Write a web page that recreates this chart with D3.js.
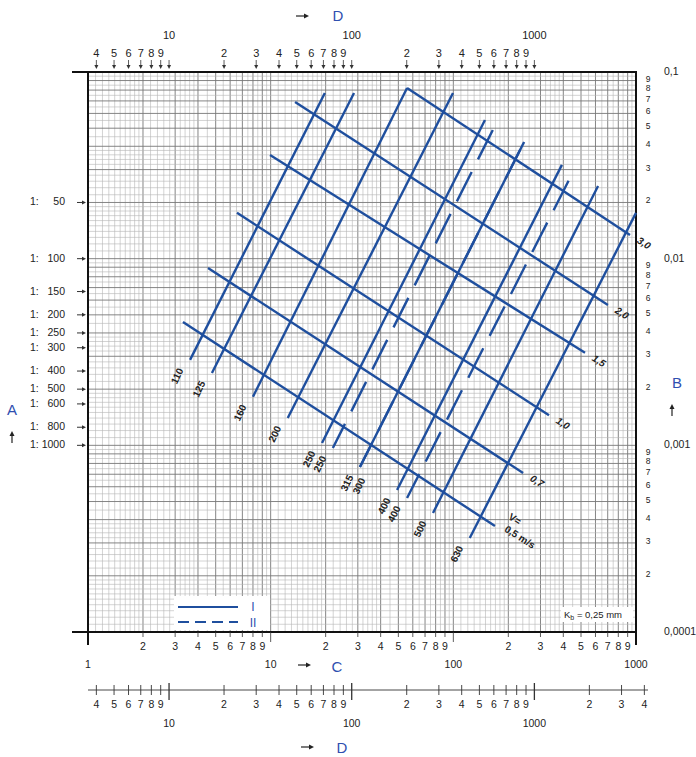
<!DOCTYPE html>
<html>
<head>
<meta charset="utf-8">
<script src="https://cdn.jsdelivr.net/npm/d3@7/dist/d3.min.js"></script>
<style>
body{margin:0;background:#fff}
svg text{font-family:"Liberation Sans",Arial,sans-serif;fill:#222}
</style>
</head>
<body>
<svg id="chart" width="696" height="757"></svg>
<script>
// pipe lines (constant diameter): bottom end and top end
// (300 II lies on top of 315 I)
var pipeLabels = ["110", "125", "160", "200", "250", "250", "315", "300", "400", "400", "500", "630"];
var pipeSeries = ["I", "I", "I", "I", "I", "II", "I", "II", "I", "II", "I", "I"];
var pipeQ0 = [3.62, 4.77, 8.0, 12.4, 19.1, 21.9, 30.8, 30.8, 49.2, 55.8, 77.4, 123];
var pipeI0 = [0.00287, 0.00244, 0.00182, 0.00140, 0.00103, 0.000968, 0.000765, 0.000765, 0.000576, 0.000522, 0.000434, 0.000319];
var pipeQ1 = [19.8, 28.6, 55.8, 99.6, 149, 173, 244, 244, 393, 452, 620, 1000];
var pipeI1 = [0.0772, 0.0772, 0.0821, 0.0772, 0.0553, 0.054, 0.0422, 0.0422, 0.0318, 0.0291, 0.0245, 0.0176];

// velocity lines (m/s): left end and right end
var velLabels = ["0,5 m/s", "0,7", "1,0", "1,5", "2,0", "3,0"];
var velQ0 = [3.31, 4.54, 6.54, 9.92, 13.6, 55.8];
var velI0 = [0.00458, 0.00891, 0.0176, 0.0359, 0.0691, 0.0821];
var velQ1 = [169, 241, 334, 526, 702, 927];
var velI1 = [0.00037, 0.000711, 0.00145, 0.00313, 0.00565, 0.0134];

// axis ticks
var cMajor = [1, 10, 100, 1000];
var cMinor = [2, 3, 4, 5, 6, 7, 8, 9];
var dTopTicks = [4, 5, 6, 7, 8, 9, 10, 20, 30, 40, 50, 60, 70, 80, 90, 100, 200, 300, 400, 500, 600, 700, 800, 900, 1000];
var dBottomTicks = dTopTicks.concat([2000, 3000, 4000]);
var dMajor = [10, 100, 1000];
var bMajor = [0.1, 0.01, 0.001, 0.0001];
var bMajorLabels = ["0,1", "0,01", "0,001", "0,0001"];
var aRatios = [50, 100, 150, 200, 250, 300, 400, 500, 600, 800, 1000];
var gridSteps = [1, 1.1, 1.2, 1.3, 1.4, 1.5, 1.6, 1.7, 1.8, 1.9, 2, 2.2, 2.4, 2.6, 2.8, 3, 3.2, 3.4, 3.6, 3.8, 4, 4.5, 5, 5.5, 6, 6.5, 7, 7.5, 8, 8.5, 9, 9.5];

var blue = "#1f4f9e",
  labelBlue = "#2f4fb0";

var svg = d3.select("#chart");

var x = d3.scaleLog().domain([1, 1000]).range([88, 636]),
  y = d3.scaleLog().domain([0.0001, 0.1]).range([632, 72]),
  // D = 3.6 * C  (l/s -> m3/h)
  xD = d3.scaleLog().domain([3.6, 3600]).range([88, 636]);

var decades = function(lo, hi){
  var out = [];
  for(var e = lo; e < hi; e++){
    gridSteps.forEach(function(s){ out.push(s * Math.pow(10, e)); });
  }
  out.push(Math.pow(10, hi));
  return out;
};
var mant = function(v){ return v / Math.pow(10, Math.floor(Math.log10(v) + 1e-9)); };
var isInt = function(v){
  var m = mant(v);
  return Math.abs(m - Math.round(m)) < 1e-6;
};

// grid
var grid = svg.append("g").attr("class", "grid");
grid.selectAll("line.gx")
  .data(decades(0, 3))
  .enter().append("line")
  .attr("x1", function(d){ return x(d); })
  .attr("x2", function(d){ return x(d); })
  .attr("y1", 72).attr("y2", 632)
  .attr("stroke", function(d){ return isInt(d) ? "#777" : "#b5b5b5"; })
  .attr("stroke-width", function(d){ return isInt(d) ? 0.9 : 0.6; });
grid.selectAll("line.gy")
  .data(decades(-4, -1))
  .enter().append("line")
  .attr("y1", function(d){ return y(d); })
  .attr("y2", function(d){ return y(d); })
  .attr("x1", 88).attr("x2", 636)
  .attr("stroke", function(d){ return isInt(d) ? "#777" : "#b5b5b5"; })
  .attr("stroke-width", function(d){ return isInt(d) ? 0.9 : 0.6; });

// frame
var frame = svg.append("g").attr("stroke", "#111").attr("stroke-width", 2);
frame.append("line").attr("x1", 72).attr("x2", 637).attr("y1", 72).attr("y2", 72);
frame.append("line").attr("x1", 72).attr("x2", 637).attr("y1", 632).attr("y2", 632);
frame.append("line").attr("x1", 88).attr("x2", 88).attr("y1", 72).attr("y2", 645);
frame.append("line").attr("x1", 636).attr("x2", 636).attr("y1", 72).attr("y2", 645);

// bottom C axis
var cAxis = svg.append("g");
cAxis.selectAll("line.ct")
  .data(decades(0, 3).filter(function(d){ return isInt(d) && d > 1 && d < 1000; }))
  .enter().append("line")
  .attr("x1", function(d){ return x(d); }).attr("x2", function(d){ return x(d); })
  .attr("y1", 632).attr("y2", function(d){ return cMajor.indexOf(d) >= 0 ? 642 : 637; })
  .attr("stroke", "#333").attr("stroke-width", 0.8);
cAxis.selectAll("text.cmin")
  .data(d3.merge([1, 10, 100].map(function(p){ return cMinor.map(function(m){ return m * p; }); })))
  .enter().append("text")
  .attr("x", function(d){ return x(d); }).attr("y", 650)
  .attr("text-anchor", "middle").attr("font-size", 10.5)
  .text(function(d){ return String(d).charAt(0); });
cAxis.selectAll("text.cmaj")
  .data(cMajor)
  .enter().append("text")
  .attr("x", function(d){ return x(d); }).attr("y", 668)
  .attr("text-anchor", "middle").attr("font-size", 10.5)
  .text(String);

// top D axis
var dTop = svg.append("g");
dTop.selectAll("line")
  .data(dTopTicks)
  .enter().append("line")
  .attr("x1", function(d){ return xD(d); }).attr("x2", function(d){ return xD(d); })
  .attr("y1", 60).attr("y2", 66)
  .attr("stroke", "#333").attr("stroke-width", 0.8);
dTop.selectAll("path")
  .data(dTopTicks)
  .enter().append("path")
  .attr("d", function(d){ var p = xD(d); return "M" + (p - 2) + ",65L" + (p + 2) + ",65L" + p + ",69Z"; })
  .attr("fill", "#333");
dTop.selectAll("text.dmin")
  .data(dTopTicks.filter(function(d){ return dMajor.indexOf(d) < 0; }))
  .enter().append("text")
  .attr("x", function(d){ return xD(d); }).attr("y", 57)
  .attr("text-anchor", "middle").attr("font-size", 11)
  .text(function(d){ return String(d).charAt(0); });
dTop.selectAll("text.dmaj")
  .data(dMajor)
  .enter().append("text")
  .attr("x", function(d){ return xD(d); }).attr("y", 39)
  .attr("text-anchor", "middle").attr("font-size", 11)
  .text(String);

// bottom D axis
var dBot = svg.append("g");
dBot.append("line").attr("x1", 88).attr("x2", 648).attr("y1", 690).attr("y2", 690)
  .attr("stroke", "#333").attr("stroke-width", 0.9);
dBot.selectAll("line.t")
  .data(dBottomTicks)
  .enter().append("line")
  .attr("x1", function(d){ return xD(d); }).attr("x2", function(d){ return xD(d); })
  .attr("y1", function(d){ return dMajor.indexOf(d) >= 0 ? 683 : 685; })
  .attr("y2", function(d){ return dMajor.indexOf(d) >= 0 ? 700 : 695; })
  .attr("stroke", "#333").attr("stroke-width", function(d){ return dMajor.indexOf(d) >= 0 ? 1.3 : 0.9; });
dBot.selectAll("text.dmin")
  .data(dBottomTicks.filter(function(d){ return dMajor.indexOf(d) < 0; }))
  .enter().append("text")
  .attr("x", function(d){ return xD(d); }).attr("y", 708)
  .attr("text-anchor", "middle").attr("font-size", 10.5)
  .text(function(d){ return String(d).charAt(0); });
dBot.selectAll("text.dmaj")
  .data(dMajor)
  .enter().append("text")
  .attr("x", function(d){ return xD(d); }).attr("y", 727)
  .attr("text-anchor", "middle").attr("font-size", 10.5)
  .text(String);

// right B axis
var bAxis = svg.append("g");
bAxis.selectAll("text.bmin")
  .data(d3.merge([0.0001, 0.001, 0.01].map(function(p){ return cMinor.map(function(m){ return m * p; }); })))
  .enter().append("text")
  .attr("x", 648).attr("y", function(d){ return y(d) + 1; })
  .attr("text-anchor", "middle").attr("font-size", 8.5)
  .text(function(d){ return String(Math.round(mant(d))); });
bAxis.selectAll("text.bmaj")
  .data(bMajor)
  .enter().append("text")
  .attr("x", 664).attr("y", function(d){ return y(d) + 3; })
  .attr("font-size", 10.5)
  .text(function(d, i){ return bMajorLabels[i]; });

// left A axis (slope 1:n)
var aAxis = svg.append("g");
aAxis.selectAll("g")
  .data(aRatios)
  .enter().append("g")
  .attr("transform", function(d){ return "translate(0," + y(1 / d) + ")"; })
  .each(function(d){
    var g = d3.select(this);
    g.append("text").attr("x", 30).attr("y", 3).attr("font-size", 10.5).text("1:");
    g.append("text").attr("x", 65).attr("y", 3).attr("font-size", 10.5)
      .attr("text-anchor", "end").text(d);
    g.append("line").attr("x1", 77).attr("x2", 83).attr("y1", 0).attr("y2", 0)
      .attr("stroke", "#333").attr("stroke-width", 1);
    g.append("path").attr("d", "M82,-2L86,0L82,2Z").attr("fill", "#333");
  });

// axis letters
var letters = [
  {t: "D", x: 338, y: 21, ax: 302, ay: 16, dir: "r"},
  {t: "C", x: 337, y: 672, ax: 304, ay: 665, dir: "r"},
  {t: "D", x: 342, y: 753, ax: 307, ay: 747, dir: "r"},
  {t: "A", x: 12, y: 415, ax: 12, ay: 437, dir: "u"},
  {t: "B", x: 677, y: 388, ax: 672, ay: 410, dir: "u"}
];
letters.forEach(function(l){
  svg.append("text").attr("x", l.x).attr("y", l.y).attr("text-anchor", "middle")
    .attr("font-size", 15).style("fill", labelBlue).text(l.t);
  if(l.dir === "r"){
    svg.append("line").attr("x1", l.ax - 6).attr("x2", l.ax + 4).attr("y1", l.ay).attr("y2", l.ay)
      .attr("stroke", "#222").attr("stroke-width", 1.2);
    svg.append("path").attr("d", "M" + (l.ax + 2) + "," + (l.ay - 2.5) + "L" + (l.ax + 7) + "," + l.ay + "L" + (l.ax + 2) + "," + (l.ay + 2.5) + "Z").attr("fill", "#222");
  } else {
    svg.append("line").attr("x1", l.ax).attr("x2", l.ax).attr("y1", l.ay + 6).attr("y2", l.ay - 3)
      .attr("stroke", "#222").attr("stroke-width", 1.2);
    svg.append("path").attr("d", "M" + (l.ax - 2.5) + "," + (l.ay - 1) + "L" + l.ax + "," + (l.ay - 6) + "L" + (l.ax + 2.5) + "," + (l.ay - 1) + "Z").attr("fill", "#222");
  }
});

// pipe lines
var pipes = pipeLabels.map(function(d, i){
  return {label: d, series: pipeSeries[i], p0: [pipeQ0[i], pipeI0[i]], p1: [pipeQ1[i], pipeI1[i]]};
});
// a second label on a line that already has one sits a little further right
pipes.forEach(function(d, i){
  d.shift = i && pipes[i - 1].p0[0] === d.p0[0] ? 12 : 0;
});
var vels = velLabels.map(function(d, i){
  return {label: d, p0: [velQ0[i], velI0[i]], p1: [velQ1[i], velI1[i]]};
});
var line = d3.line().x(function(d){ return x(d[0]); }).y(function(d){ return y(d[1]); });

var marks = svg.append("g").attr("fill", "none").attr("stroke", blue).attr("stroke-width", 2.4);
marks.selectAll("path.vel")
  .data(vels)
  .enter().append("path")
  .attr("d", function(d){ return line([d.p0, d.p1]); });
marks.selectAll("path.pipe")
  .data(pipes)
  .enter().append("path")
  .attr("d", function(d){ return line([d.p0, d.p1]); })
  .attr("stroke-dasharray", function(d){ return d.series === "II" ? "33,14" : null; })
  .attr("stroke-dashoffset", function(d){ return d.series === "II" ? 6 : null; });

// pipe labels, below the bottom ends, rotated along the line
svg.selectAll("text.pipe")
  .data(pipes)
  .enter().append("text")
  .attr("transform", function(d){
    return "translate(" + (x(d.p0[0]) - 13 + d.shift) + "," + (y(d.p0[1]) + 16 + d.shift / 4) + ") rotate(-64)";
  })
  .attr("text-anchor", "middle").attr("dy", "0.35em")
  .attr("font-size", 10).attr("font-weight", "bold")
  .text(function(d){ return d.label; });

// velocity labels, right of the right ends
svg.selectAll("text.vel")
  .data(vels.slice(1))
  .enter().append("text")
  .attr("transform", function(d){
    return "translate(" + (x(d.p1[0]) + 14) + "," + (y(d.p1[1]) + 8) + ") rotate(32)";
  })
  .attr("text-anchor", "middle").attr("dy", "0.35em")
  .attr("font-size", 10).attr("font-weight", "bold").attr("font-style", "italic")
  .text(function(d){ return d.label; });
var v0 = vels[0];
svg.append("text")
  .attr("transform", "translate(" + (x(v0.p1[0]) + 20) + "," + (y(v0.p1[1]) - 7) + ") rotate(32)")
  .attr("text-anchor", "middle").attr("dy", "0.35em")
  .attr("font-size", 10).attr("font-weight", "bold")
  .text("V=");
svg.append("text")
  .attr("transform", "translate(" + (x(v0.p1[0]) + 25) + "," + (y(v0.p1[1]) + 11) + ") rotate(32)")
  .attr("text-anchor", "middle").attr("dy", "0.35em")
  .attr("font-size", 10).attr("font-weight", "bold")
  .text(v0.label);

// legend
var leg = svg.append("g");
leg.append("rect").attr("x", 174).attr("y", 596).attr("width", 96).attr("height", 34).attr("fill", "#fff");
leg.append("line").attr("x1", 178).attr("x2", 238).attr("y1", 607).attr("y2", 607)
  .attr("stroke", blue).attr("stroke-width", 2.2);
leg.append("line").attr("x1", 178).attr("x2", 238).attr("y1", 622).attr("y2", 622)
  .attr("stroke", blue).attr("stroke-width", 2.2).attr("stroke-dasharray", "11,6");
leg.append("text").attr("x", 253).attr("y", 611).attr("text-anchor", "middle")
  .attr("font-size", 12).style("fill", labelBlue).text("I");
leg.append("text").attr("x", 253).attr("y", 627).attr("text-anchor", "middle")
  .attr("font-size", 12).style("fill", labelBlue).text("II");

// roughness note
svg.append("rect").attr("x", 561).attr("y", 607).attr("width", 72).attr("height", 15).attr("fill", "#fff");
var kb = svg.append("text").attr("x", 564).attr("y", 618).attr("font-size", 9.5);
kb.append("tspan").text("K");
kb.append("tspan").attr("dy", 2).attr("font-size", 7).text("b");
kb.append("tspan").attr("dy", -2).text(" = 0,25 mm");
</script>
</body>
</html>
